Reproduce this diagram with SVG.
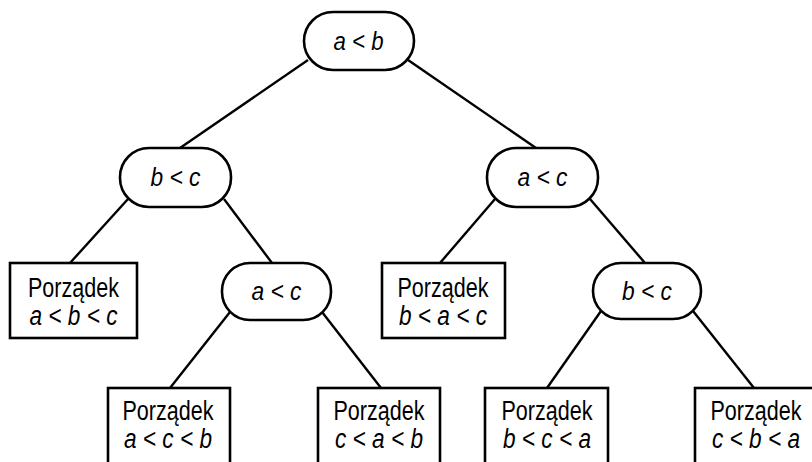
<svg xmlns="http://www.w3.org/2000/svg" width="812" height="462" viewBox="0 0 812 462">
<style>
.n{fill:#fff;stroke:#000;stroke-width:2.6}
.e line{stroke:#000;stroke-width:2.4}
.t{font-family:"Liberation Sans",Arial,sans-serif;font-size:27px;fill:#000;text-anchor:middle}
.r{font-family:"Liberation Sans",Arial,sans-serif;font-size:26px;font-style:italic;fill:#000;text-anchor:middle}
.ri{font-style:italic}
</style>
<rect width="812" height="462" fill="#fff"/>
<g id="connectors" class="e">
<line x1="308" y1="60" x2="180" y2="148"/>
<line x1="408" y1="60" x2="536" y2="148"/>
<line x1="128" y1="199" x2="70" y2="263"/>
<line x1="224" y1="199" x2="272" y2="263"/>
<line x1="495" y1="199" x2="440" y2="263"/>
<line x1="590" y1="199" x2="645" y2="263"/>
<line x1="230" y1="312" x2="170" y2="388"/>
<line x1="322" y1="312" x2="381" y2="388"/>
<line x1="601" y1="311" x2="547" y2="388"/>
<line x1="693" y1="311" x2="754" y2="388"/>
</g>
<g id="root">
<rect class="n" x="304" y="12" width="110" height="58" rx="29"/>
<text class="r" x="358.5" y="50" textLength="50" lengthAdjust="spacingAndGlyphs">a &lt; b</text>
</g>
<g id="bc1">
<rect class="n" x="120" y="148" width="111" height="59" rx="29"/>
<text class="r" x="175.5" y="186" textLength="50" lengthAdjust="spacingAndGlyphs">b &lt; c</text>
</g>
<g id="ac1">
<rect class="n" x="487" y="148" width="111" height="59" rx="29"/>
<text class="r" x="542.5" y="186" textLength="50" lengthAdjust="spacingAndGlyphs">a &lt; c</text>
</g>
<g id="ac2">
<rect class="n" x="222" y="263" width="109" height="57" rx="28"/>
<text class="r" x="276.5" y="300" textLength="50" lengthAdjust="spacingAndGlyphs">a &lt; c</text>
</g>
<g id="bc2">
<rect class="n" x="593" y="263" width="108" height="56" rx="28"/>
<text class="r" x="647" y="300" textLength="50" lengthAdjust="spacingAndGlyphs">b &lt; c</text>
</g>
<g id="leaf-abc">
<rect class="n" x="10" y="263" width="127" height="75"/>
<text class="t" x="73.5" y="297" textLength="91" lengthAdjust="spacingAndGlyphs">Porządek</text>
<text class="t ri" x="73.5" y="325" textLength="88" lengthAdjust="spacingAndGlyphs">a &lt; b &lt; c</text>
</g>
<g id="leaf-bac">
<rect class="n" x="382" y="263" width="123" height="75"/>
<text class="t" x="443" y="297" textLength="91" lengthAdjust="spacingAndGlyphs">Porządek</text>
<text class="t ri" x="443" y="325" textLength="88" lengthAdjust="spacingAndGlyphs">b &lt; a &lt; c</text>
</g>
<g id="leaf-acb">
<rect class="n" x="108" y="388" width="122" height="90"/>
<text class="t" x="168" y="420" textLength="91" lengthAdjust="spacingAndGlyphs">Porządek</text>
<text class="t ri" x="168" y="448" textLength="88" lengthAdjust="spacingAndGlyphs">a &lt; c &lt; b</text>
</g>
<g id="leaf-cab">
<rect class="n" x="318" y="388" width="122" height="90"/>
<text class="t" x="379" y="420" textLength="91" lengthAdjust="spacingAndGlyphs">Porządek</text>
<text class="t ri" x="379" y="448" textLength="88" lengthAdjust="spacingAndGlyphs">c &lt; a &lt; b</text>
</g>
<g id="leaf-bca">
<rect class="n" x="485" y="388" width="123" height="90"/>
<text class="t" x="547" y="420" textLength="91" lengthAdjust="spacingAndGlyphs">Porządek</text>
<text class="t ri" x="547" y="448" textLength="88" lengthAdjust="spacingAndGlyphs">b &lt; c &lt; a</text>
</g>
<g id="leaf-cba">
<rect class="n" x="695" y="388" width="122" height="90"/>
<text class="t" x="756" y="420" textLength="91" lengthAdjust="spacingAndGlyphs">Porządek</text>
<text class="t ri" x="756" y="448" textLength="88" lengthAdjust="spacingAndGlyphs">c &lt; b &lt; a</text>
</g>
</svg>
